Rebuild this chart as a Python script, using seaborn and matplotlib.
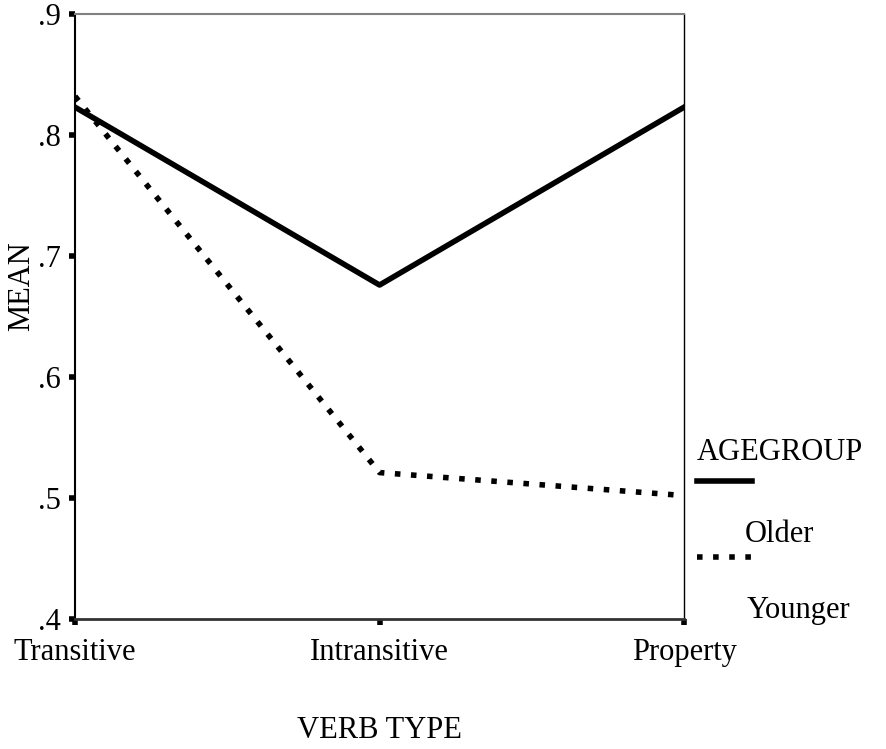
import pandas as pd
import matplotlib
matplotlib.use('Agg')
import matplotlib.pyplot as plt
from matplotlib.lines import Line2D
import seaborn as sns

plt.rcParams['font.family'] = ['Liberation Serif', 'DejaVu Serif']

# Data
verb_types = ['Transitive', 'Intransitive', 'Property']
older = [0.823, 0.676, 0.823]
younger = [0.832, 0.521, 0.502]
y_ticks = [0.4, 0.5, 0.6, 0.7, 0.8, 0.9]
y_tick_labels = ['.4', '.5', '.6', '.7', '.8', '.9']

df = pd.DataFrame({
    'VERB TYPE': verb_types * 2,
    'MEAN': older + younger,
    'AGEGROUP': ['Older'] * 3 + ['Younger'] * 3,
})

fig = plt.figure(figsize=(8.87, 7.49), dpi=100)
ax = fig.add_axes([0.0846, 0.1736, 0.6866, 0.8077])

sns.lineplot(data=df, x='VERB TYPE', y='MEAN', hue='AGEGROUP', style='AGEGROUP',
             palette={'Older': 'black', 'Younger': 'black'},
             dashes={'Older': '', 'Younger': (1, 1.9)},
             linewidth=4, legend=False, ax=ax)

ax.set_xlim(0, len(verb_types) - 1)
ax.set_ylim(0.4, 0.9)
ax.set_yticks(y_ticks)
ax.set_yticklabels(y_tick_labels)

# axis labels and ticks
ax.set_xlabel('VERB TYPE', fontsize=22)
ax.set_ylabel('MEAN', fontsize=22)
ax.xaxis.set_label_coords(0.5, -0.16)
ax.yaxis.set_label_coords(-0.064, 0.55)
ax.tick_params(axis='both', direction='out', length=4, width=4, labelsize=22, color='black')
ax.tick_params(axis='x', pad=10)
ax.tick_params(axis='y', pad=6)

ax.spines['top'].set_color('#808080')
ax.spines['top'].set_linewidth(1.5)
ax.spines['right'].set_linewidth(1.0)
ax.spines['left'].set_linewidth(1.5)
ax.spines['bottom'].set_color('#333333')
ax.spines['bottom'].set_linewidth(2)

# legend drawn by hand: line sample above each label
fig.text(0.786, 0.386, 'AGEGROUP', fontsize=22, va='baseline', ha='left')
fig.add_artist(Line2D([0.786, 0.848], [0.358, 0.358], color='black', lw=4))
fig.text(0.840, 0.276, 'Older', fontsize=22, va='baseline', ha='left')
fig.add_artist(Line2D([0.786, 0.848], [0.256, 0.256], color='black', lw=4,
                      dashes=(1, 1.9)))
fig.text(0.842, 0.175, 'Younger', fontsize=22, va='baseline', ha='left')

plt.savefig('out.png', dpi=100)
